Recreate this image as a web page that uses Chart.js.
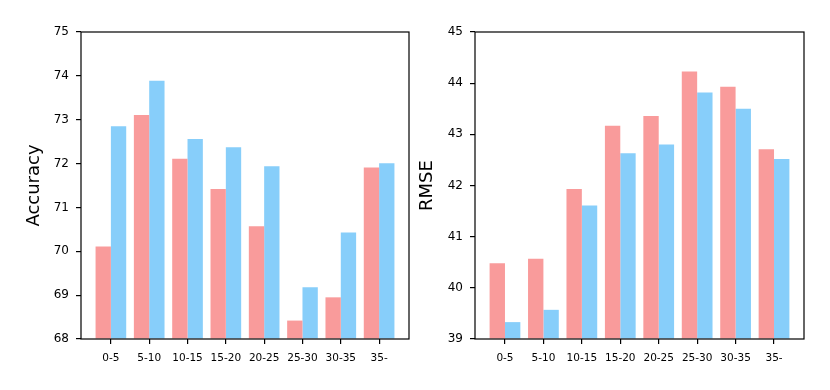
<!DOCTYPE html>
<html><head><meta charset="utf-8">
<script src="https://cdn.jsdelivr.net/npm/chart.js@4/dist/chart.umd.min.js"></script>
<style>
html,body{margin:0;padding:0;background:#fff;width:830px;height:390px;overflow:hidden}
canvas{position:absolute;top:0}
</style></head><body>
<canvas id="a" width="415" height="390" style="left:0"></canvas>
<canvas id="b" width="415" height="390" style="left:415px"></canvas>
<script>
const categories = ["0-5","5-10","10-15","15-20","20-25","25-30","30-35","35-"];
const accuracyRed  = [70.11, 73.11, 72.11, 71.42, 70.57, 68.42, 68.95, 71.91];
const accuracyBlue = [72.85, 73.89, 72.56, 72.37, 71.94, 69.18, 70.43, 72.01];
const rmseRed  = [40.48, 40.57, 41.93, 43.17, 43.36, 44.23, 43.93, 42.71];
const rmseBlue = [39.33, 39.57, 41.61, 42.63, 42.80, 43.82, 43.50, 42.52];
const accuracyTicks = [68, 69, 70, 71, 72, 73, 74, 75];
const rmseTicks = [39, 40, 41, 42, 43, 44, 45];

const RED = '#F99B9B', BLUE = '#87CEFA';
const FONT = "'DejaVu Sans', sans-serif";

const framePlugin = {
  id: 'frame',
  afterDraw(chart) {
    const {ctx, chartArea: a} = chart;
    ctx.save();
    ctx.strokeStyle = '#000';
    ctx.lineWidth = 1.2;
    ctx.strokeRect(a.left, a.top, a.right - a.left, a.bottom - a.top);
    ctx.restore();
  }
};

function makeChart(id, red, blue, ticks, title, yWidth, padRight, titlePad) {
  const toPts = arr => arr.map((v, i) => ({x: i, y: v}));
  return new Chart(document.getElementById(id), {
    type: 'bar',
    data: {
      datasets: [
        {data: toPts(red), backgroundColor: RED, borderWidth: 0, base: ticks[0]},
        {data: toPts(blue), backgroundColor: BLUE, borderWidth: 0, base: ticks[0]}
      ]
    },
    plugins: [framePlugin],
    options: {
      responsive: false,
      animation: false,
      devicePixelRatio: 1,
      categoryPercentage: 0.8,
      barPercentage: 1.0,
      layout: {padding: {top: 32, right: padRight, left: 0, bottom: 0}},
      plugins: {legend: {display: false}, tooltip: {enabled: false}},
      scales: {
        x: {
          type: 'linear',
          offset: false,
          min: -0.78,
          max: categories.length - 1 + 0.78,
          afterBuildTicks: s => { s.ticks = categories.map((_, i) => ({value: i})); },
          afterFit: s => { s.height = 51; },
          border: {display: false},
          grid: {offset: false, drawOnChartArea: false, drawTicks: true, tickLength: 5, color: '#000', lineWidth: 1.2},
          ticks: {
            autoSkip: false, maxRotation: 0, padding: 8,
            color: '#000', font: {family: FONT, size: 10.5},
            callback: v => categories[v] ?? ''
          }
        },
        y: {
          type: 'linear',
          min: ticks[0],
          max: ticks[ticks.length - 1],
          afterBuildTicks: s => { s.ticks = ticks.map(v => ({value: v})); },
          afterFit: s => { s.width = yWidth; },
          border: {display: false},
          grid: {drawOnChartArea: false, drawTicks: true, tickLength: 5, color: '#000', lineWidth: 1.2},
          ticks: {padding: 7, color: '#000', font: {family: FONT, size: 12}},
          title: {
            display: true, text: title, color: '#000',
            font: {family: FONT, size: 18}, padding: {top: titlePad, bottom: 0}
          }
        }
      }
    }
  });
}

makeChart('a', accuracyRed, accuracyBlue, accuracyTicks, 'Accuracy', 81, 6, 24);
makeChart('b', rmseRed, rmseBlue, rmseTicks, 'RMSE', 60, 26, 2);
</script>
</body></html>
